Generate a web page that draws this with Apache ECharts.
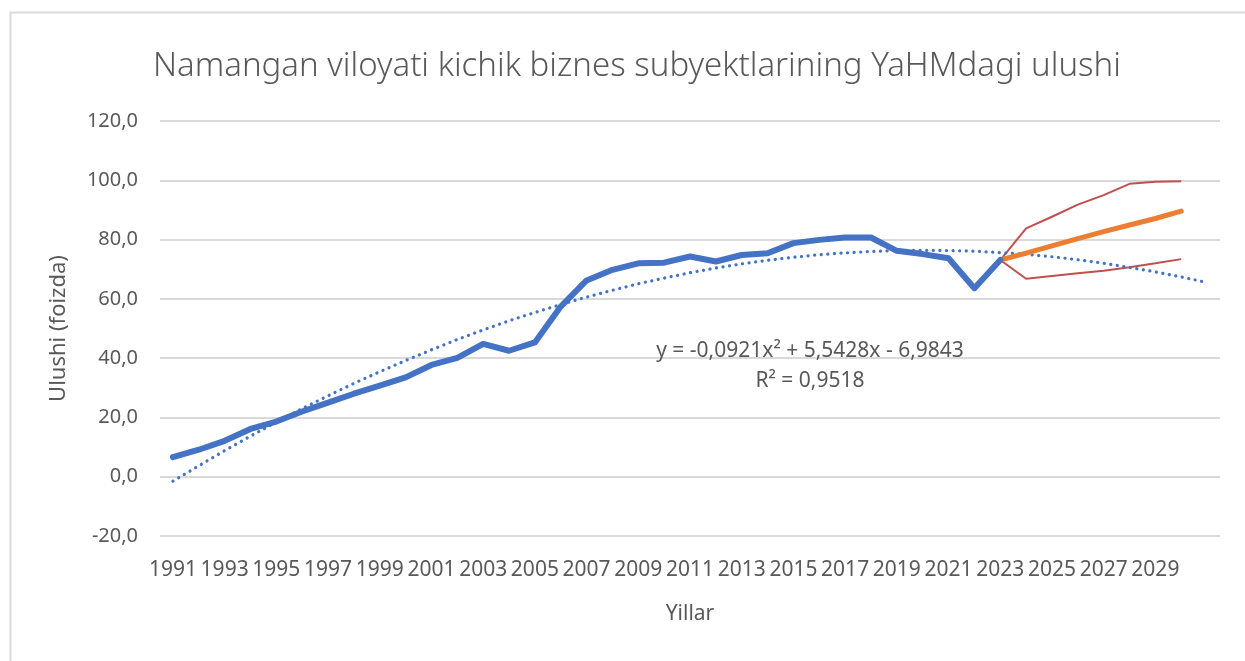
<!DOCTYPE html>
<html>
<head>
<meta charset="utf-8">
<style>html,body{margin:0;padding:0;background:#fff}#c{width:1245px;height:661px}</style>
<script src="https://cdn.jsdelivr.net/npm/echarts@6/dist/echarts.min.js"></script>
</head>
<body>
<div id="c"></div>
<script>
// Categories: 1991..2030 plus one empty slot used by the trendline forecast
const categories = ['1991','1992','1993','1994','1995','1996','1997','1998','1999','2000',
  '2001','2002','2003','2004','2005','2006','2007','2008','2009','2010',
  '2011','2012','2013','2014','2015','2016','2017','2018','2019','2020',
  '2021','2022','2023','2024','2025','2026','2027','2028','2029','2030',''];

// Actual share (1991..2023)
const actual = [6.6, 9.1, 12.1, 16.1, 18.6, 22.0, 25.0, 28.0, 30.7, 33.5,
  37.7, 40.1, 44.8, 42.5, 45.3, 57.4, 66.2, 69.8, 72.0, 72.2,
  74.3, 72.6, 74.8, 75.4, 78.8, 79.9, 80.7, 80.7, 76.2, 75.1,
  73.7, 63.6, 73.1];

// Forecast (2023..2030)
const forecast = [73.1, 75.4, 77.9, 80.3, 82.7, 84.9, 87.1, 89.6];
const upperBound = [73.1, 83.8, 87.7, 91.8, 95.0, 98.8, 99.5, 99.7];
const lowerBound = [73.1, 66.8, 67.7, 68.6, 69.5, 70.7, 72.0, 73.4];

// Polynomial trendline values (1991..2031)
const trend = [-1.5, 3.7, 8.8, 13.7, 18.4, 23.0, 27.3, 31.5, 35.4, 39.2,
  42.8, 46.3, 49.5, 52.6, 55.4, 58.1, 60.6, 62.9, 65.1, 67.0,
  68.8, 70.4, 71.8, 73.0, 74.0, 74.9, 75.5, 76.0, 76.3, 76.4,
  76.3, 76.1, 75.6, 75.0, 74.2, 73.2, 72.0, 70.6, 69.1, 67.4, 65.5];

const yTicks = {min: -20, max: 120, step: 20};
const titleText = 'Namangan viloyati kichik biznes subyektlarining YaHMdagi ulushi';
const eqText = 'y = -0,0921x² + 5,5428x - 6,9843';
const r2Text = 'R² = 0,9518';

const forecastStart = actual.length - 1;
function pad(arr) {
  const out = new Array(categories.length).fill(null);
  arr.forEach((v, i) => { out[forecastStart + i] = v; });
  return out;
}

const FONT = 'Noto Sans';
const GREY = '#595959';
const chart = echarts.init(document.getElementById('c'), null, {renderer: 'canvas'});
chart.setOption({
  animation: false,
  backgroundColor: '#fff',
  textStyle: {fontFamily: FONT},
  title: {
    text: titleText, left: 148, top: 45,
    textStyle: {fontFamily: FONT, fontSize: 33, fontWeight: 300, color: GREY}
  },
  grid: {left: 160, right: 25, top: 121, bottom: 125, containLabel: false},
  xAxis: {
    type: 'category', data: categories, boundaryGap: true,
    name: 'Yillar', nameLocation: 'middle', nameGap: 68,
    nameTextStyle: {fontFamily: FONT, fontSize: 21, color: GREY},
    axisLine: {show: false}, axisTick: {show: false},
    axisLabel: {interval: 1, fontFamily: FONT, fontSize: 21, color: GREY, margin: 24, hideOverlap: false},
    splitLine: {show: false}
  },
  yAxis: {
    type: 'value', min: yTicks.min, max: yTicks.max, interval: yTicks.step,
    name: 'Ulushi (foizda)', nameLocation: 'middle', nameGap: 90, nameRotate: 90,
    nameTextStyle: {fontFamily: FONT, fontSize: 22, color: GREY},
    axisLine: {show: false}, axisTick: {show: false},
    axisLabel: {fontFamily: FONT, fontSize: 20, color: GREY, margin: 22,
      formatter: v => v.toFixed(1).replace('.', ',')},
    splitLine: {show: true, lineStyle: {color: '#d9d9d9', width: 2}}
  },
  series: [
    {name: 'trend', type: 'line', data: trend, symbol: 'none', silent: true, z: 3,
      lineStyle: {color: '#4472C4', width: 3.2, type: [0.1, 6.5], cap: 'round'}},
    {name: 'upper', type: 'line', data: pad(upperBound), symbol: 'none', z: 2,
      lineStyle: {color: '#C0504D', width: 2}},
    {name: 'lower', type: 'line', data: pad(lowerBound), symbol: 'none', z: 2,
      lineStyle: {color: '#C0504D', width: 2}},
    {name: 'forecast', type: 'line', data: pad(forecast), symbol: 'none', z: 4,
      lineStyle: {color: '#ED7D31', width: 5, cap: 'round', join: 'round'}},
    {name: 'actual', type: 'line', data: actual, symbol: 'none', z: 5,
      lineStyle: {color: '#4472C4', width: 6, cap: 'round', join: 'round'}}
  ],
  graphic: [
    {type: 'rect', left: 8, top: 10, shape: {width: 1300, height: 700}, silent: true, z: -10,
      style: {fill: 'none', stroke: '#d9d9d9', lineWidth: 2}},
    {type: 'text', x: 810, y: 351, z: 10,
      style: {text: eqText, fill: GREY, font: '21px "Noto Sans"', textAlign: 'center', textVerticalAlign: 'middle'}},
    {type: 'text', x: 810, y: 381, z: 10,
      style: {text: r2Text, fill: GREY, font: '21px "Noto Sans"', textAlign: 'center', textVerticalAlign: 'middle'}}
  ]
});
</script>
</body>
</html>
